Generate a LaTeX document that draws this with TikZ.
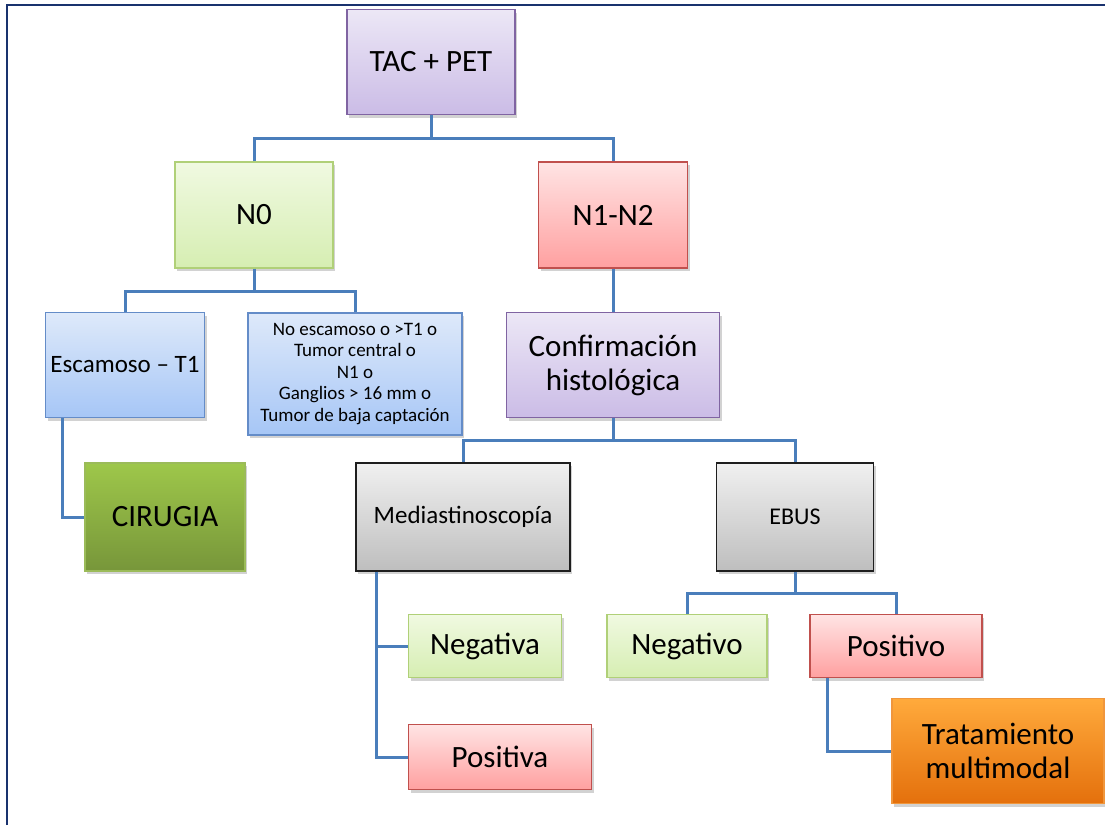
\documentclass[tikz,border=0pt]{standalone}
\usepackage{fontspec}
\setmainfont{Carlito}
\usepackage{xcolor}
\usepackage{tikz}
\usetikzlibrary{shadows,calc}

\definecolor{linea}{RGB}{74,126,187}
\definecolor{marco}{RGB}{25,50,110}

\begin{document}
\begin{tikzpicture}[x=1pt, y=-1pt]
  \tikzset{caja/.style={draw, line width=1.3pt, align=center, inner sep=2pt,
      drop shadow={shadow xshift=2pt, shadow yshift=-3pt, opacity=.35}},
    lila/.style={caja, draw={rgb,255:red,128;green,100;blue,162}, top color={rgb,255:red,236;green,231;blue,246}, bottom color={rgb,255:red,203;green,188;blue,230}},
    verde/.style={caja, draw={rgb,255:red,176;green,208;blue,120}, top color={rgb,255:red,240;green,249;blue,225}, bottom color={rgb,255:red,214;green,238;blue,178}},
    rojo/.style={caja, draw={rgb,255:red,192;green,80;blue,77}, top color={rgb,255:red,255;green,228;blue,228}, bottom color={rgb,255:red,255;green,160;blue,160}},
    azul/.style={caja, draw={rgb,255:red,100;green,140;blue,200}, top color={rgb,255:red,222;green,233;blue,250}, bottom color={rgb,255:red,166;green,198;blue,246}},
    gris/.style={caja, draw={rgb,255:red,30;green,30;blue,30}, top color={rgb,255:red,240;green,240;blue,240}, bottom color={rgb,255:red,190;green,190;blue,190}},
    oliva/.style={caja, draw={rgb,255:red,155;green,187;blue,89}, top color={rgb,255:red,158;green,199;blue,74}, bottom color={rgb,255:red,119;green,150;blue,58}},
    naranja/.style={caja, draw={rgb,255:red,240;green,150;blue,60}, top color={rgb,255:red,255;green,170;blue,60}, bottom color={rgb,255:red,228;green,112;blue,12}},
    grande/.style={font=\fontsize{31}{34}\selectfont},
    medio/.style={font=\fontsize{25}{28}\selectfont},
    chico/.style={font=\fontsize{19}{21.5}\selectfont},
    rama/.style={draw=linea, line width=3pt}}
  \useasboundingbox (0,0) rectangle (1105,825);
  \fill[white] (0,0) rectangle (1105,825);
  \draw[marco, line width=2pt] (7,825) -- (7,5) -- (1105,5);

  % nivel 1 y 2
  \node[lila, grande, minimum width=168, minimum height=105] (tac) at (431,62) {TAC + PET};
  \node[verde, grande, minimum width=158, minimum height=106] (nzero) at (254,215) {N0};
  \node[rojo, grande, minimum width=149, minimum height=106] (nunodos) at (613,215) {N1-N2};

  % rama N0
  \node[azul, medio, minimum width=159, minimum height=105] (escam) at (125,365) {Escamoso -- T1};
  \node[azul, chico, minimum width=214, minimum height=122] (noesc) at (355,374)
    {No escamoso o >T1 o\\Tumor central o\\N1 o\\Ganglios > 16 mm o\\Tumor de baja captación};
  \node[oliva, grande, minimum width=160, minimum height=108] (cirugia) at (165,517) {CIRUGIA};

  % rama N1-N2
  \node[lila, grande, minimum width=213, minimum height=105] (confirm) at (613,365) {Confirmación\\histológica};
  \node[gris, medio, minimum width=214, minimum height=108] (mediast) at (463,517) {Mediastinoscopía};
  \node[gris, font=\fontsize{24}{27}\selectfont, minimum width=157, minimum height=108] (ebus) at (795,517) {EBUS};
  \node[verde, grande, minimum width=153, minimum height=63] (negva) at (485,646) {Negativa};
  \node[rojo, grande, minimum width=183, minimum height=65] (posva) at (500,757) {Positiva};
  \node[verde, grande, minimum width=160, minimum height=63] (negvo) at (687,646) {Negativo};
  \node[rojo, grande, minimum width=172, minimum height=63] (posvo) at (896,646) {Positivo};
  \node[naranja, grande, minimum width=212, minimum height=105] (tratam) at (998,751) {Tratamiento\\multimodal};

  % conectores
  \draw[rama] (tac.south) -- ++(0,23) coordinate (b1);
  \draw[rama] (nzero.north) |- (b1) -| (nunodos.north);
  \draw[rama] (nzero.south) -- ++(0,23) coordinate (b2);
  \draw[rama] (escam.north) |- (b2) -| (noesc.north);
  \draw[rama] ([xshift=18pt]escam.south west) |- (cirugia.west);
  \draw[rama] (nunodos.south) -- (confirm.north);
  \draw[rama] (confirm.south) -- ++(0,22) coordinate (b3);
  \draw[rama] (mediast.north) |- (b3) -| (ebus.north);
  \draw[rama] ([xshift=21pt]mediast.south west) |- (posva.west);
  \draw[rama] ([xshift=21pt]mediast.south west) |- (negva.west);
  \draw[rama] (ebus.south) -- ++(0,22) coordinate (b4);
  \draw[rama] (negvo.north) |- (b4) -| (posvo.north);
  \draw[rama] ([xshift=18pt]posvo.south west) |- (tratam.west);
\end{tikzpicture}
\end{document}
